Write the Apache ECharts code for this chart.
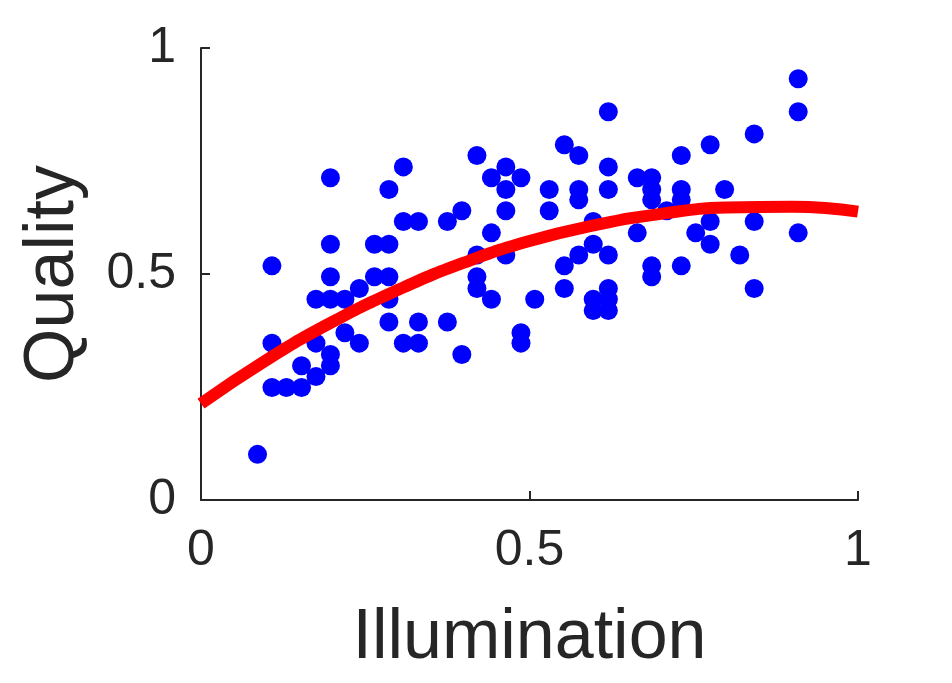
<!DOCTYPE html>
<html>
<head>
<meta charset="utf-8">
<script src="https://cdn.jsdelivr.net/npm/echarts@6/dist/echarts.min.js"></script>
<style>
html,body{margin:0;padding:0;background:#fff;}
#chart{width:952px;height:683px;}
</style>
</head>
<body>
<div id="chart"></div>
<script>
// Scatter data: Illumination (x) and Quality (y)
var illumination = [
  0.086, 0.108, 0.108, 0.108, 0.130, 0.153, 0.153, 0.175, 0.175, 0.175,
  0.197, 0.197, 0.197, 0.197, 0.197, 0.197, 0.219, 0.219, 0.241, 0.241,
  0.264, 0.286, 0.264, 0.286, 0.286, 0.286, 0.286, 0.308, 0.308, 0.331,
  0.308, 0.331, 0.331, 0.375, 0.397, 0.375, 0.397, 0.420, 0.442, 0.464,
  0.487, 0.464, 0.464, 0.442, 0.464, 0.420, 0.420, 0.420, 0.442, 0.487,
  0.487, 0.508, 0.530, 0.530, 0.553, 0.575, 0.575, 0.575, 0.620, 0.620,
  0.620, 0.597, 0.597, 0.575, 0.620, 0.553, 0.553, 0.597, 0.597, 0.620,
  0.620, 0.620, 0.664, 0.686, 0.686, 0.686, 0.731, 0.731, 0.731, 0.797,
  0.709, 0.664, 0.775, 0.842, 0.909, 0.753, 0.775, 0.820, 0.686, 0.686,
  0.731, 0.842, 0.909, 0.909, 0.842, 0.775
];
var quality = [
  0.101, 0.518, 0.347, 0.249, 0.249, 0.249, 0.297, 0.273, 0.347, 0.444,
  0.713, 0.566, 0.494, 0.444, 0.322, 0.297, 0.444, 0.370, 0.468, 0.347,
  0.566, 0.566, 0.494, 0.494, 0.444, 0.394, 0.687, 0.737, 0.616, 0.616,
  0.347, 0.347, 0.394, 0.616, 0.640, 0.394, 0.322, 0.762, 0.713, 0.737,
  0.713, 0.687, 0.640, 0.591, 0.542, 0.542, 0.494, 0.468, 0.444, 0.370,
  0.347, 0.444, 0.687, 0.640, 0.786, 0.762, 0.687, 0.664, 0.859, 0.737,
  0.687, 0.616, 0.566, 0.542, 0.542, 0.518, 0.468, 0.444, 0.419, 0.468,
  0.444, 0.419, 0.713, 0.713, 0.687, 0.664, 0.762, 0.687, 0.664, 0.687,
  0.640, 0.591, 0.616, 0.616, 0.591, 0.591, 0.566, 0.542, 0.518, 0.494,
  0.518, 0.468, 0.932, 0.859, 0.810, 0.786
];

// Fitted curve
var fitX = [0, 0.1, 0.2, 0.3, 0.4, 0.5, 0.6, 0.7, 0.8, 0.9, 1.0];
var fitY = [0.213, 0.310, 0.394, 0.465, 0.525, 0.573, 0.608, 0.633, 0.647, 0.649, 0.638];

// Tick values
var xTicks = [0, 0.5, 1];
var yTicks = [0, 0.5, 1];

var FONT = '"Liberation Sans", Arial, Helvetica, sans-serif';
var INK = '#262626';

var scatterData = illumination.map(function (x, i) { return [x, quality[i]]; });
var fitData = fitX.map(function (x, i) { return [x, fitY[i]]; });

function fmt(v) { return String(v); }

var chart = echarts.init(document.getElementById('chart'), null, {renderer: 'canvas'});
chart.setOption({
  animation: false,
  backgroundColor: '#ffffff',
  grid: {left: 201, right: 94, top: 48, bottom: 183, containLabel: false},
  xAxis: {
    type: 'value',
    min: xTicks[0], max: xTicks[xTicks.length - 1], interval: xTicks[1] - xTicks[0],
    name: 'Illumination',
    nameLocation: 'middle',
    nameGap: 104,
    nameTextStyle: {fontFamily: FONT, fontSize: 70, color: INK},
    axisLine: {show: true, onZero: false, lineStyle: {color: INK, width: 2}},
    axisTick: {show: true, inside: true, length: 9, lineStyle: {color: INK, width: 2}},
    axisLabel: {fontFamily: FONT, fontSize: 50, color: INK, margin: 26, formatter: fmt},
    splitLine: {show: false}
  },
  yAxis: {
    type: 'value',
    min: yTicks[0], max: yTicks[yTicks.length - 1], interval: yTicks[1] - yTicks[0],
    name: 'Quality',
    nameLocation: 'middle',
    nameGap: 112,
    nameTextStyle: {fontFamily: FONT, fontSize: 70, color: INK},
    axisLine: {show: true, onZero: false, lineStyle: {color: INK, width: 2}},
    axisTick: {show: true, inside: true, length: 9, lineStyle: {color: INK, width: 2}},
    axisLabel: {fontFamily: FONT, fontSize: 50, color: INK, margin: 25, formatter: fmt},
    splitLine: {show: false}
  },
  series: [
    {
      type: 'scatter',
      data: scatterData,
      symbol: 'circle',
      symbolSize: 19,
      itemStyle: {color: '#0000ff', opacity: 1},
      z: 2
    },
    {
      type: 'line',
      data: fitData,
      smooth: true,
      showSymbol: false,
      symbol: 'none',
      lineStyle: {color: '#ff0000', width: 12, cap: 'butt'},
      z: 3
    }
  ]
});
</script>
</body>
</html>
